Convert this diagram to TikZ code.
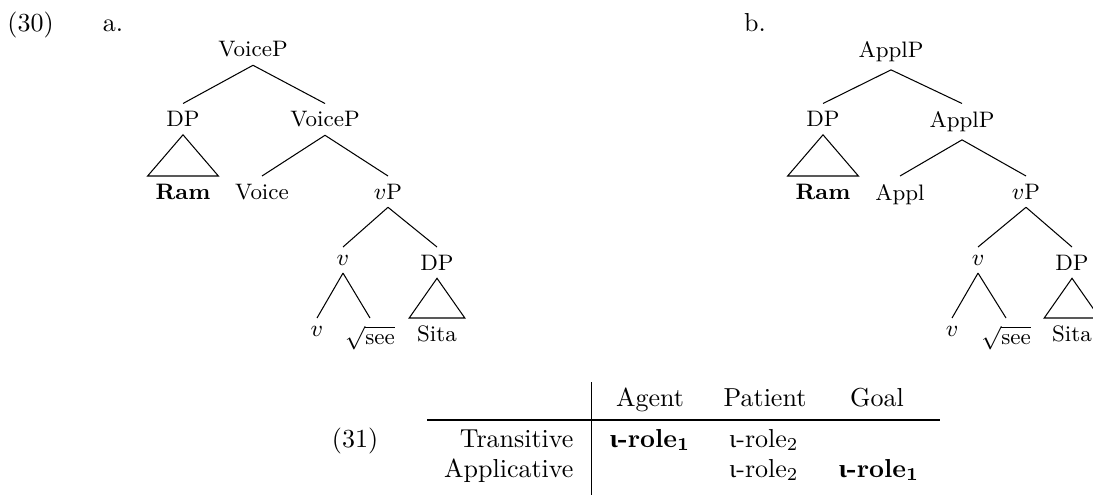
\documentclass[tikz,border=0pt]{standalone}
\usepackage{fontspec}
\newfontfamily\grk{Liberation Serif}
\newcommand\treefont{\fontsize{8.6}{10.3}\selectfont}
\newcommand\irole[1]{{\grk ι}-role$_{#1}$}
\newcommand\birole[1]{{\boldmath\textbf{{\grk ι}-role$_{#1}$}}}
\tikzset{
  tn/.style={anchor=north, inner sep=2.88pt, font=\treefont},
  ex/.style={anchor=base, inner sep=0pt},
}
\begin{document}
\begin{tikzpicture}[x=0.3846pt, y=-0.3846pt]
  \useasboundingbox (0,0) rectangle (1093,494);
  % (30a)
  \node[ex] (n30) at (30.5,31.5) {(30)};
  \node[ex] (la) at (113,31.5) {a.};
  \node[tn] (a1) at (253,33.5) {VoiceP};
  \node[tn] (a2) at (183,103.5) {DP};
  \node[tn] (a3) at (325,103.5) {VoiceP};
  \node[tn] (a4) at (183,176) {\textbf{Ram}};
  \node[tn] (a5) at (262,176) {Voice};
  \node[tn] (a6) at (388,176) {$v$P};
  \node[tn] (a7) at (343,247) {$v$};
  \node[tn] (a8) at (437,247) {DP};
  \node[tn] (a9) at (317,318) {$v$};
  \node[tn] (a10) at (370,318) {$\sqrt{\mbox{see}}$};
  \node[tn] (a11) at (437,318) {Sita};
  \foreach \p/\c in {a1/a2,a1/a3,a3/a5,a3/a6,a6/a7,a6/a8,a7/a9,a7/a10}
    \draw (\p.south) -- (\c.north);
  \foreach \p/\c in {a2/a4,a8/a11}
    \draw (\p.south) -- (\c.north west) -- (\c.north east) -- cycle;
  % (30b)
  \node[ex] (lb) at (755,31.5) {b.};
  \node[tn] (b1) at (891,33.5) {ApplP};
  \node[tn] (b2) at (823,103.5) {DP};
  \node[tn] (b3) at (962,103.5) {ApplP};
  \node[tn] (b4) at (823,176) {\textbf{Ram}};
  \node[tn] (b5) at (900,176) {Appl};
  \node[tn] (b6) at (1026,176) {$v$P};
  \node[tn] (b7) at (978,247) {$v$};
  \node[tn] (b8) at (1072,247) {DP};
  \node[tn] (b9) at (952,318) {$v$};
  \node[tn] (b10) at (1006,318) {$\sqrt{\mbox{see}}$};
  \node[tn] (b11) at (1072,318) {Sita};
  \foreach \p/\c in {b1/b2,b1/b3,b3/b5,b3/b6,b6/b7,b6/b8,b7/b9,b7/b10}
    \draw (\p.south) -- (\c.north);
  \foreach \p/\c in {b2/b4,b8/b11}
    \draw (\p.south) -- (\c.north west) -- (\c.north east) -- cycle;
  % (31)
  \node[ex] (n31) at (355,447) {(31)};
  \node[ex] (hag) at (650,406) {Agent};
  \node[ex] (hpa) at (765,406) {Patient};
  \node[ex] (hgo) at (877,406) {Goal};
  \node[ex, anchor=base east] (rtr) at (574,447) {Transitive};
  \node[ex] (c11) at (650,447) {\birole1};
  \node[ex] (c12) at (764,447) {\irole2};
  \node[ex, anchor=base east] (rap) at (574,477) {Applicative};
  \node[ex] (c22) at (764,477) {\irole2};
  \node[ex] (c23) at (879,477) {\birole1};
  \draw (427,420) -- (940,420);
  \draw (591.7,382) -- (591.7,500);
\end{tikzpicture}
\end{document}
